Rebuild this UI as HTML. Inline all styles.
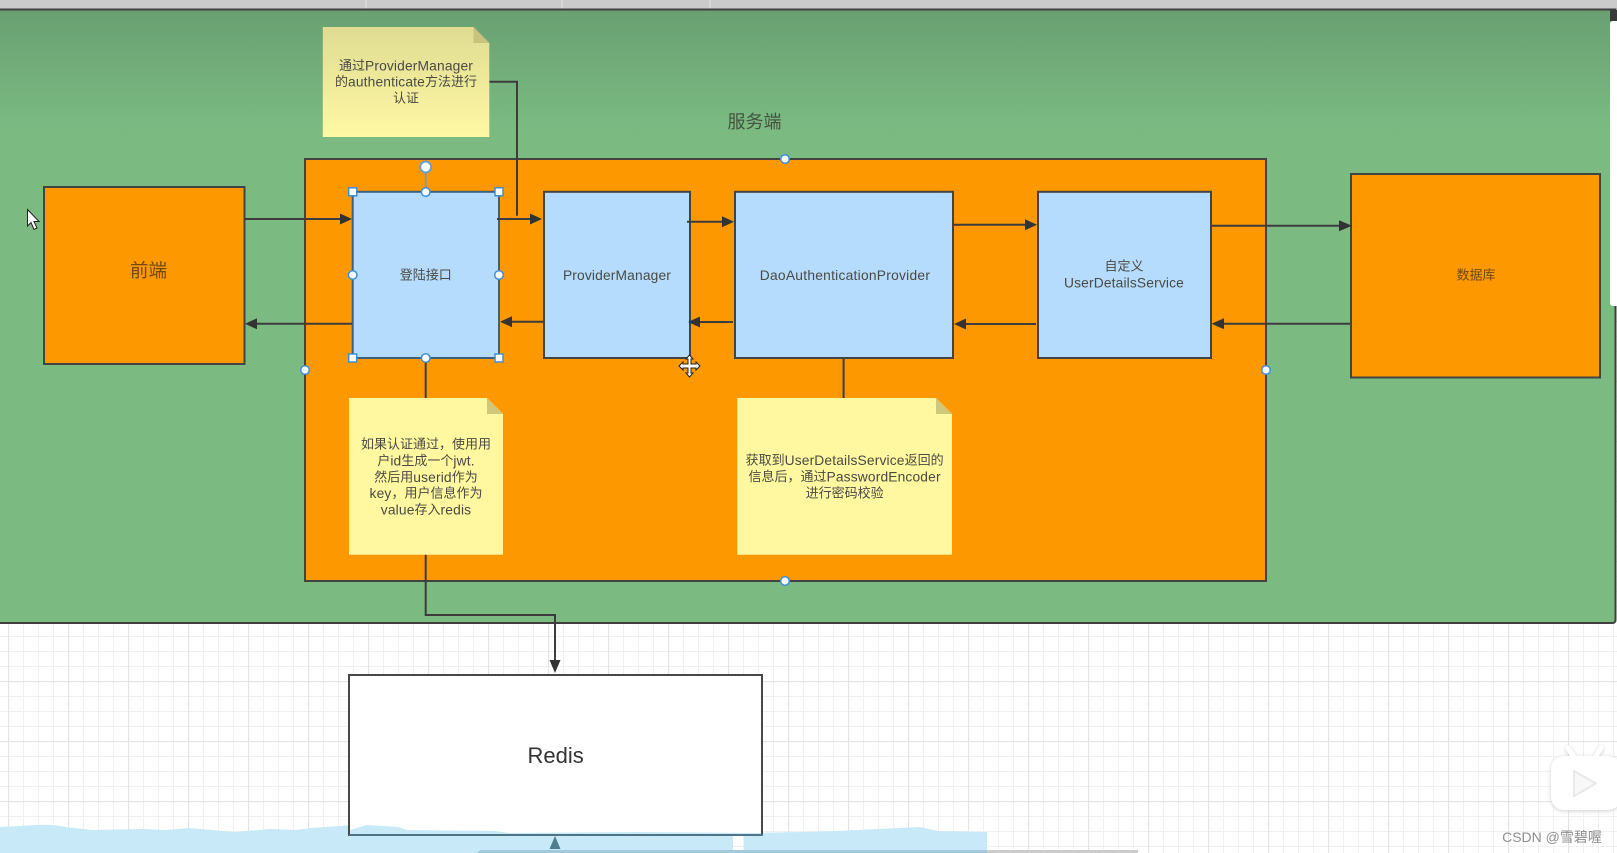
<!DOCTYPE html>
<html lang="zh">
<head>
<meta charset="utf-8">
<title>服务端认证流程</title>
<style>
html,body{margin:0;padding:0;width:1617px;height:853px;overflow:hidden;background:#fff}
svg{display:block;filter:blur(.35px)}
text{font-family:"Liberation Sans","Noto Sans CJK SC",sans-serif;text-anchor:middle;dominant-baseline:central}
.t{font-size:13px;fill:#4a4a44}
.t tspan{font-size:13.8px;letter-spacing:.15px}
.o{font-size:13px;fill:#6e4a12}
.l{fill:none;stroke:#3c3c3c;stroke-width:2}
.b{stroke:#434343;stroke-width:2}
.h{fill:#fff;stroke:#3f8fd6;stroke-width:1.5}
</style>
</head>
<body>
<svg width="1617" height="853" viewBox="0 0 1617 853" xmlns="http://www.w3.org/2000/svg">
<defs>
<pattern id="minor" width="15" height="15" patternUnits="userSpaceOnUse" x="8" y="21">
<path d="M0.5 0V15M0 0.5H15" stroke="#f1f1f1" stroke-width="1" fill="none"/>
</pattern>
<pattern id="major" width="60" height="60" patternUnits="userSpaceOnUse" x="8" y="21">
<path d="M0.5 0V60M0 0.5H60" stroke="#e5e5e5" stroke-width="1.2" fill="none"/>
</pattern>
<linearGradient id="g" x1="0" y1="0" x2="0" y2="1">
<stop offset="0" stop-color="#69a072"/>
<stop offset="0.2" stop-color="#7bbb82"/>
<stop offset="1" stop-color="#7bbb82"/>
</linearGradient>
<linearGradient id="n1" x1="0" y1="0" x2="0" y2="1">
<stop offset="0" stop-color="#dfdc92"/>
<stop offset="1" stop-color="#fff8a4"/>
</linearGradient>
</defs>

<!-- canvas -->
<rect width="1617" height="853" fill="#fff"/>
<rect width="1617" height="853" fill="url(#minor)"/>
<rect width="1617" height="853" fill="url(#major)"/>

<!-- water at bottom -->
<path d="M0 827Q18 826 36 825T66 827L92 830L143 829L165 830L189 828L235 832L270 829L296 830L311 828L367 824L398 827L408 830L495 831L510 833L638 832L733 833V853H0Z" fill="#c8eaf8"/>
<path d="M744 833L800 832L836 831L878 829L920 827L938 831L987 832V853H744Z" fill="#c8eaf8"/>

<!-- top bar -->
<rect width="1617" height="9" fill="#cbcbcb"/>
<path d="M366 0V9M562 0V9M710 0V9" stroke="#e4e4e4" stroke-width="1"/>

<!-- green container -->
<path d="M-4 9.5H1615.5V620a3 3 0 0 1-3 3H-4Z" fill="url(#g)" stroke="#3f3f3f" stroke-width="2"/>

<!-- right scrollbar -->
<rect x="1610" y="10" width="7" height="11" fill="#3a3a3a"/>
<rect x="1610" y="21" width="9" height="285" rx="3" fill="#fff"/>

<!-- service box -->
<rect x="305" y="159" width="961" height="422" fill="#fe9800" class="b"/>
<text x="754.5" y="122" style="font-size:18px;fill:#44543f">服务端</text>

<!-- outer boxes -->
<rect x="44" y="187" width="200.5" height="177" fill="#fe9800" class="b"/>
<text x="148.5" y="270.5" style="font-size:18.6px;fill:#6e4a12">前端</text>
<rect x="1351" y="174" width="249" height="203.5" fill="#fe9800" class="b"/>
<text x="1476" y="275" class="o">数据库</text>

<!-- connectors behind notes -->
<path class="l" d="M425.7 358V615H555V664"/>
<path class="l" d="M843.6 358V398"/>
<path class="l" d="M489 81.7H517V215.7"/>

<!-- blue boxes -->
<rect x="352.7" y="191.8" width="146.3" height="166.2" fill="#b5dcfd" stroke="#3f5f7f" stroke-width="2"/>
<rect x="544" y="191.8" width="146" height="166.2" fill="#b5dcfd" class="b"/>
<rect x="735" y="191.8" width="218" height="166.2" fill="#b5dcfd" class="b"/>
<rect x="1038" y="191.8" width="173" height="166.2" fill="#b5dcfd" class="b"/>
<text x="425.7" y="275" class="t">登陆接口</text>
<text x="617" y="275" class="t"><tspan>ProviderManager</tspan></text>
<text x="845" y="275" class="t"><tspan style="letter-spacing:.25px">DaoAuthenticationProvider</tspan></text>
<text x="1124" y="266" class="t">自定义</text>
<text x="1124" y="282.3" class="t"><tspan>UserDetailsService</tspan></text>

<!-- arrows -->
<g class="l">
<path d="M244.5 219H342"/>
<path d="M497 219H531"/>
<path d="M687 221.7H724"/>
<path d="M953.6 224.7H1027"/>
<path d="M1211 225.7H1340"/>
<path d="M1350 323.7H1222"/>
<path d="M1036 324H965"/>
<path d="M733 322H699"/>
<path d="M544 321.7H511"/>
<path d="M352 323.8H256"/>
</g>
<g fill="#333">
<path d="M352 219L340 213.5V224.5Z"/>
<path d="M542 219L530 213.5V224.5Z"/>
<path d="M734 221.7L722 216.2V227.2Z"/>
<path d="M1037 224.7L1025 219.2V230.2Z"/>
<path d="M1352 225.7L1339 220.2V231.2Z"/>
<path d="M1211.5 323.7L1224 318.2V329.2Z"/>
<path d="M954 324L966 318.5V329.5Z"/>
<path d="M688 322L700 316.5V327.5Z"/>
<path d="M500 321.7L512 316.2V327.2Z"/>
<path d="M245 323.8L257 318.3V329.3Z"/>
<path d="M555 673L549.5 660H560.5Z"/>
</g>

<!-- sticky notes -->
<path d="M322.8 27H473.5L489.3 43V137H322.8Z" fill="url(#n1)"/>
<path d="M473.5 27L489.3 43H473.5Z" fill="#c9c27c"/>
<text x="406" y="65.3" class="t">通过<tspan>ProviderManager</tspan></text>
<text x="406" y="81.6" class="t">的<tspan>authenticate</tspan>方法进行</text>
<text x="406" y="98" class="t">认证</text>

<path d="M349 398H487L503 414V554.7H349Z" fill="#fff8a0"/>
<path d="M487 398L503 414H487Z" fill="#cfc87a"/>
<text x="426" y="444" class="t">如果认证通过，使用用</text>
<text x="426" y="460.3" class="t">户<tspan>id</tspan>生成一个<tspan>jwt.</tspan></text>
<text x="426" y="476.8" class="t">然后用<tspan>userid</tspan>作为</text>
<text x="426" y="493" class="t"><tspan>key</tspan>，用户信息作为</text>
<text x="426" y="509.5" class="t"><tspan>value</tspan>存入<tspan>redis</tspan></text>

<path d="M737.3 398H936L952 414V554.7H737.3Z" fill="#fff8a0"/>
<path d="M936 398L952 414H936Z" fill="#cfc87a"/>
<text x="844.6" y="460" class="t">获取到<tspan>UserDetailsService</tspan>返回的</text>
<text x="844.6" y="476.4" class="t">信息后，通过<tspan>PasswordEncoder</tspan></text>
<text x="844.6" y="493" class="t">进行密码校验</text>

<!-- selection handles -->
<path d="M425.7 172V191" stroke="#8a9aa6" stroke-width="2"/>
<circle cx="425.7" cy="167" r="5.5" class="h" style="stroke:#6a9fcc;stroke-width:2"/>
<rect x="348.7" y="187.8" width="8" height="8" class="h"/>
<rect x="495" y="187.8" width="8" height="8" class="h"/>
<rect x="348.7" y="354" width="8" height="8" class="h"/>
<rect x="495" y="354" width="8" height="8" class="h"/>
<circle cx="425.7" cy="192" r="4.3" class="h"/>
<circle cx="425.7" cy="358" r="4.3" class="h"/>
<circle cx="352.7" cy="275" r="4.3" class="h"/>
<circle cx="499" cy="275" r="4.3" class="h"/>
<circle cx="785" cy="159" r="4.3" class="h"/>
<circle cx="785" cy="581" r="4.3" class="h"/>
<circle cx="305" cy="370" r="4.3" class="h"/>
<circle cx="1266" cy="370" r="4.3" class="h"/>

<!-- Redis -->
<rect x="349" y="675" width="413" height="160" fill="#fff" stroke="#484848" stroke-width="2"/>
<path d="M350 830L367 825L398 827L408 830L495 831L510 833L638 832L761 833V834H350Z" fill="#c8eaf8"/>
<text x="555.6" y="755.5" style="font-size:22px;fill:#333">Redis</text>
<path d="M349 835H763" stroke="#4f7486" stroke-width="2"/>
<path d="M555 836L549.5 849H560.5Z" fill="#4f7f8f"/>

<!-- bottom scrollbar -->
<path d="M480 850H987V853H477Z" fill="#a2c9d9"/>
<rect x="987" y="850" width="151" height="3" fill="#cccccc"/>

<!-- mouse pointer -->
<path d="M27.5 209.5V226L31 222.5L34 229.5L37 228L34 221.5H39Z" fill="#fff" stroke="#222" stroke-width="1"/>

<!-- move cursor -->
<path d="M689.5 355L693 359H691V364H696V362L700 366L696 370V368H691V373H693L689.5 377L686 373H688V368H683V370L679 366L683 362V364H688V359H686Z" fill="#fff" stroke="#222" stroke-width="1"/>

<!-- TV icon -->
<g style="filter:drop-shadow(0 1px 2px #cfcfcf)">
<path d="M1568 748L1575 759M1601 748L1594 759" stroke="#fff" stroke-width="5" stroke-linecap="round"/>
<rect x="1551" y="756" width="70" height="54" rx="13" fill="#fff"/>
</g>
<path d="M1574 771L1596 783.5L1574 796Z" fill="#f8f8f8" stroke="#e9e9e9" stroke-width="2" stroke-linejoin="round"/>

<!-- watermark -->
<text x="1552" y="837" style="font-size:14px;fill:#8e8e8e">CSDN @雪碧喔</text>
</svg>
</body>
</html>
